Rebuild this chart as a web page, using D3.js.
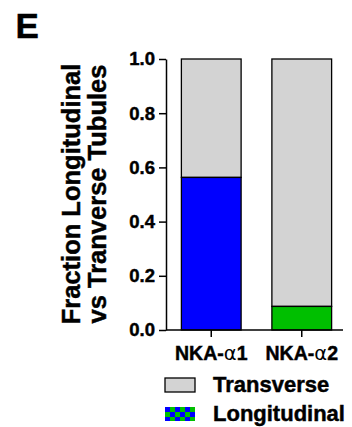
<!DOCTYPE html>
<html>
<head>
<meta charset="utf-8">
<script src="https://cdn.jsdelivr.net/npm/d3@7"></script>
<style>
  html, body { margin: 0; padding: 0; background: #fff; }
  svg { display: block; }
  text { font-family: "Liberation Sans", Arial, Helvetica, sans-serif; font-weight: bold; fill: #000; }
  .heavy { stroke: #000; stroke-width: 0.45px; }
</style>
</head>
<body>
<svg id="chart" width="352" height="427"></svg>
<script>
// Fraction of tubules per isoform
const categories = ["NKA-α1", "NKA-α2"];
const longitudinal = [0.563, 0.087];
const transverse = [0.437, 0.913];
const longColors = ["#0000ff", "#00bf00"];
const yTicks = [0.0, 0.2, 0.4, 0.6, 0.8, 1.0];
const legendLabels = ["Transverse", "Longitudinal"];

const svg = d3.select("#chart");

const x = d3.scaleBand()
  .domain(categories)
  .range([166, 347])
  .paddingInner(0.34)
  .paddingOuter(0.17);

const y = d3.scaleLinear().domain([0, 1]).range([330, 59]);

// checkered swatch for the legend
const defs = svg.append("defs");
const pat = defs.append("pattern")
  .attr("id", "checker")
  .attr("patternUnits", "userSpaceOnUse")
  .attr("x", 165).attr("y", 407)
  .attr("width", 10).attr("height", 10);
pat.append("rect").attr("width", 10).attr("height", 10).attr("fill", "#00bf00");
pat.append("rect").attr("width", 5).attr("height", 5).attr("fill", "#0000ff");
pat.append("rect").attr("x", 5).attr("y", 5).attr("width", 5).attr("height", 5).attr("fill", "#0000ff");

// stacked bars: longitudinal at the bottom, transverse on top
const g = svg.append("g");
categories.forEach((c, i) => {
  g.append("rect")
    .attr("x", x(c)).attr("width", x.bandwidth())
    .attr("y", y(longitudinal[i] + transverse[i]))
    .attr("height", y(longitudinal[i]) - y(longitudinal[i] + transverse[i]))
    .attr("fill", "#d3d3d3").attr("stroke", "#000").attr("stroke-width", 1.3);
  g.append("rect")
    .attr("x", x(c)).attr("width", x.bandwidth())
    .attr("y", y(longitudinal[i]))
    .attr("height", y(0) - y(longitudinal[i]))
    .attr("fill", longColors[i]).attr("stroke", "#000").attr("stroke-width", 1.3);
});

// y axis
const yAxis = svg.append("g")
  .attr("transform", "translate(166,0)")
  .call(d3.axisLeft(y).tickValues(yTicks).tickFormat(d3.format(".1f")).tickSize(7).tickSizeOuter(0).tickPadding(4));
yAxis.select(".domain").attr("stroke-width", 1.5);
yAxis.selectAll(".tick line").attr("stroke-width", 1.5);
yAxis.selectAll(".tick text")
  .attr("class", "heavy")
  .style("font-family", "Liberation Sans, Arial, sans-serif")
  .style("font-weight", "bold").style("font-size", "18.5px").attr("fill", "#000");

// x axis
const xAxis = svg.append("g")
  .attr("transform", "translate(0,330)")
  .call(d3.axisBottom(x).tickSize(7).tickSizeOuter(0).tickFormat(""));
xAxis.select(".domain").remove();
xAxis.selectAll(".tick line").attr("stroke-width", 1.5);
svg.append("line")
  .attr("x1", 166).attr("x2", 343).attr("y1", y(0)).attr("y2", y(0))
  .attr("stroke", "#000").attr("stroke-width", 1.5);

// category labels with a Greek alpha in a lighter face
categories.forEach(c => {
  const [pre, post] = c.split("α");
  const t = svg.append("text")
    .attr("x", x(c) + x.bandwidth() / 2).attr("y", 360)
    .attr("text-anchor", "middle").style("font-size", "19.5px");
  t.append("tspan").attr("class", "heavy").text(pre);
  t.append("tspan").text("α").style("font-weight", "normal").style("font-family", "DejaVu Sans, sans-serif");
  t.append("tspan").attr("class", "heavy").text(post);
});

// y axis title
const yTitle = svg.append("text")
  .attr("class", "heavy")
  .attr("transform", "translate(80,194) rotate(-90)")
  .attr("text-anchor", "middle").style("font-size", "25.5px");
yTitle.append("tspan").attr("x", 0).attr("dy", 0).text("Fraction Longitudinal");
yTitle.append("tspan").attr("x", 0).attr("dy", 26).text("vs Tranverse Tubules");

// panel letter
svg.append("text").attr("class", "heavy").attr("x", 15.5).attr("y", 38).style("font-size", "35px").text("E");

// legend
const legend = svg.append("g");
const swatchFills = ["#d3d3d3", "url(#checker)"];
legendLabels.forEach((lab, i) => {
  const yy = 378 + i * 29;
  legend.append("rect")
    .attr("x", 165).attr("y", yy).attr("width", 30).attr("height", 14)
    .attr("fill", swatchFills[i])
    .attr("stroke", i === 0 ? "#000" : "none").attr("stroke-width", 1.3);
  legend.append("text")
    .attr("class", "heavy")
    .attr("x", 213).attr("y", yy + 14)
    .style("font-size", "22px").text(lab);
});
</script>
</body>
</html>
